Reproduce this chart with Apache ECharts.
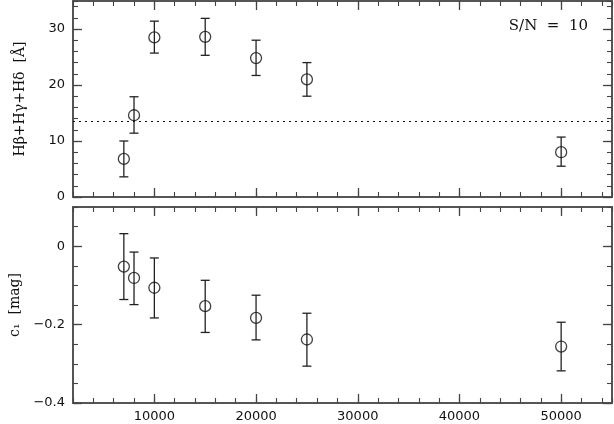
<!DOCTYPE html>
<html>
<head>
<meta charset="utf-8">
<script src="https://cdn.jsdelivr.net/npm/echarts@6/dist/echarts.min.js"></script>
<style>html,body{margin:0;padding:0;background:#fff}#c{width:614px;height:424px}</style>
</head>
<body>
<div id="c"></div>
<script>
// ---- data ----
var temps = [7000, 8000, 10000, 15000, 20000, 25000, 50000];
var hsum = [6.8, 14.6, 28.5, 28.6, 24.8, 21.0, 8.0];
var hsumLow = [3.6, 11.4, 25.7, 25.3, 21.7, 18.0, 5.5];
var hsumHigh = [10.0, 17.9, 31.4, 31.9, 28.0, 24.0, 10.7];
var c1 = [-0.052, -0.081, -0.106, -0.153, -0.183, -0.238, -0.256];
var c1Low = [-0.136, -0.149, -0.183, -0.220, -0.239, -0.306, -0.318];
var c1High = [0.032, -0.015, -0.030, -0.087, -0.125, -0.171, -0.194];
var refLine = 13.5;
var xTicks = [10000, 20000, 30000, 40000, 50000];
var topYTicks = [0, 10, 20, 30];
var botYTicks = [-0.4, -0.2, 0];

var frame = '#555';
var tickCol = '#444';
var labelFont = {color: '#111', fontFamily: 'DejaVu Sans', fontSize: 13};

function xAxesFor(g, labels) {
  var base = {type: 'value', gridIndex: g, min: 2000, max: 55000, splitLine: {show: false}};
  var major = function (pos, showLab) {
    return Object.assign({}, base, {
      position: pos,
      axisLine: {show: true, onZero: false, lineStyle: {color: frame, width: 2}},
      axisTick: {show: true, inside: true, length: 9, customValues: xTicks, lineStyle: {color: tickCol, width: 1.3}},
      axisLabel: Object.assign({show: showLab, customValues: xTicks, margin: 7,
        formatter: function (v) { return String(v); }}, labelFont)
    });
  };
  var minor = function (pos) {
    return Object.assign({}, base, {
      position: pos, interval: 2000,
      axisLine: {show: false, onZero: false},
      axisTick: {show: true, inside: true, length: 5, lineStyle: {color: tickCol, width: 1.1}},
      axisLabel: {show: false}
    });
  };
  return [major('bottom', labels), major('top', false), minor('bottom'), minor('top')];
}

function yAxesFor(g, min, max, ticks, minorInt, name, fmt) {
  var base = {type: 'value', gridIndex: g, min: min, max: max, splitLine: {show: false}};
  var major = function (pos, showLab) {
    var a = Object.assign({}, base, {
      position: pos,
      axisLine: {show: true, onZero: false, lineStyle: {color: frame, width: 2}},
      axisTick: {show: true, inside: true, length: 9, customValues: ticks, lineStyle: {color: tickCol, width: 1.3}},
      axisLabel: Object.assign({show: showLab, margin: 8, customValues: ticks, formatter: fmt}, labelFont)
    });
    if (showLab) {
      a.name = name;
      a.nameLocation = 'middle';
      a.nameGap = 46;
      a.nameTextStyle = {color: '#111', fontFamily: 'DejaVu Serif', fontSize: 14};
    }
    return a;
  };
  var minor = function (pos) {
    return Object.assign({}, base, {
      position: pos, interval: minorInt,
      axisLine: {show: false, onZero: false},
      axisTick: {show: true, inside: true, length: 5, lineStyle: {color: tickCol, width: 1.1}},
      axisLabel: {show: false}
    });
  };
  return [major('left', true), major('right', false), minor('left'), minor('right')];
}

function minusFmt(v) {
  if (Math.abs(v) < 1e-9) return '0';
  return v.toFixed(1).replace('-', '\u2212');
}

function pts(xs, ys) { return xs.map(function (x, i) { return [x, ys[i]]; }); }
function errs(xs, lo, hi) { return xs.map(function (x, i) { return [x, lo[i], hi[i]]; }); }

function errRender(params, api) {
  var x = api.value(0);
  var p1 = api.coord([x, api.value(1)]);
  var p2 = api.coord([x, api.value(2)]);
  var hw = 4.5;
  var st = {stroke: '#222', lineWidth: 1.3, fill: null};
  return {
    type: 'group',
    children: [
      {type: 'line', shape: {x1: p1[0], y1: p1[1], x2: p2[0], y2: p2[1]}, style: st},
      {type: 'line', shape: {x1: p1[0] - hw, y1: p1[1], x2: p1[0] + hw, y2: p1[1]}, style: st},
      {type: 'line', shape: {x1: p2[0] - hw, y1: p2[1], x2: p2[0] + hw, y2: p2[1]}, style: st}
    ]
  };
}

var circleStyle = {color: 'transparent', borderColor: '#111', borderWidth: 1.3};

var option = {
  animation: false,
  backgroundColor: '#fff',
  grid: [
    {left: 73, top: 1, width: 539, height: 196},
    {left: 73, top: 207, width: 539, height: 196}
  ],
  xAxis: xAxesFor(0, false).concat(xAxesFor(1, true)),
  yAxis: yAxesFor(0, 0, 35, topYTicks, 2, 'H\u03b2+H\u03b3+H\u03b4  [\u00c5]', function (v) { return String(v); })
    .concat(yAxesFor(1, -0.4, 0.1, botYTicks, 0.05, 'c\u2081  [mag]', minusFmt)),
  graphic: [{
    type: 'text', right: 26, top: 19,
    style: {text: 'S/N  =  10', fill: '#111', font: '15px "DejaVu Serif"'}
  }],
  series: [
    {
      type: 'custom', xAxisIndex: 0, yAxisIndex: 0, renderItem: errRender,
      data: errs(temps, hsumLow, hsumHigh), silent: true, z: 2
    },
    {
      type: 'scatter', xAxisIndex: 0, yAxisIndex: 0, symbol: 'circle', symbolSize: 11,
      itemStyle: circleStyle, data: pts(temps, hsum), z: 3,
      markLine: {
        silent: true, symbol: 'none', label: {show: false},
        lineStyle: {type: [2, 4], color: '#111', width: 1},
        data: [{yAxis: refLine}]
      }
    },
    {
      type: 'custom', xAxisIndex: 4, yAxisIndex: 4, renderItem: errRender,
      data: errs(temps, c1Low, c1High), silent: true, z: 2
    },
    {
      type: 'scatter', xAxisIndex: 4, yAxisIndex: 4, symbol: 'circle', symbolSize: 11,
      itemStyle: circleStyle, data: pts(temps, c1), z: 3
    }
  ]
};

var chart = echarts.init(document.getElementById('c'), null, {renderer: 'canvas'});
chart.setOption(option);
</script>
</body>
</html>
